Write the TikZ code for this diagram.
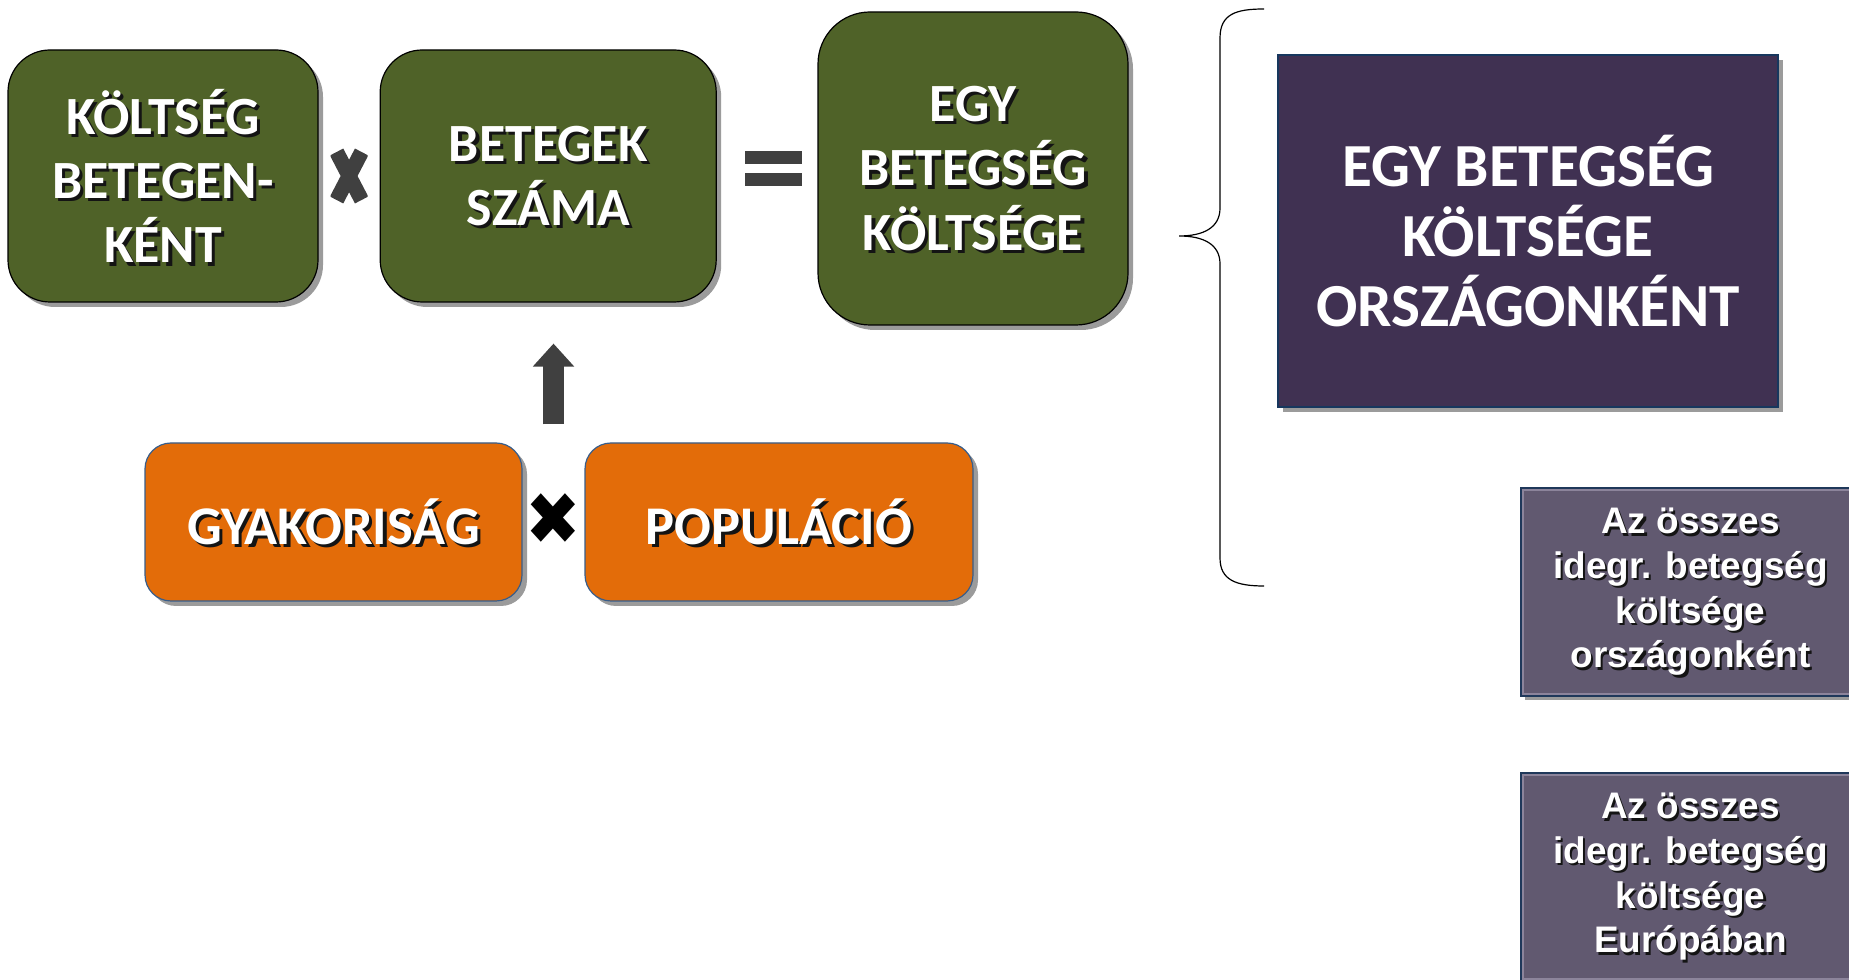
\documentclass[tikz,border=0pt]{standalone}
\usepackage{fontspec}
\setmainfont{Carlito}
\newfontfamily\arialfont{Liberation Sans}
\newfontfamily\symbfont{DejaVu Sans}
\usetikzlibrary{arrows.meta, positioning, calc, shadows}

\definecolor{boxgreen}{RGB}{79,98,40}
\definecolor{boxorange}{RGB}{227,108,9}
\definecolor{orangeline}{RGB}{56,93,138}
\definecolor{boxpurple}{RGB}{64,49,82}
\definecolor{purpleline}{RGB}{23,55,94}
\definecolor{boxgray}{RGB}{97,89,112}
\definecolor{grayline}{RGB}{31,56,90}
\definecolor{graybevel}{RGB}{140,132,155}
\definecolor{signgray}{RGB}{64,64,64}
\definecolor{shadowgray}{RGB}{155,155,155}
\definecolor{txtshadow}{RGB}{20,20,20}

\newlength\px
\setlength\px{0.01cm}

\newcommand\shtext[1]{\leavevmode\rlap{\kern0.06em\raisebox{-0.06em}[0pt][0pt]{\color{txtshadow}#1}}#1}

\begin{document}
\begin{tikzpicture}[
    x=0.01cm, y=-0.01cm,
    boxshadow/.style={drop shadow={shadow xshift=5\px, shadow yshift=-5\px, fill=shadowgray, opacity=1}},
    greenbox/.style={boxshadow, rounded corners=42\px, fill=boxgreen, draw=black, line width=1.2\px,
        text=white, align=center, inner sep=0pt, font=\fontsize{15.3}{18.3}\selectfont\bfseries},
    orangebox/.style={boxshadow, rounded corners=26\px, fill=boxorange, draw=orangeline, line width=1.2\px,
        text=white, align=center, inner sep=0pt, minimum height=158\px, font=\fontsize{15.5}{18.5}\selectfont\bfseries},
    purplebox/.style={boxshadow, fill=boxpurple, draw=purpleline, line width=1.5\px,
        text=white, align=center, inner sep=0pt, font=\fontsize{17.4}{19.8}\selectfont\bfseries},
    graybox/.style={drop shadow={shadow xshift=4\px, shadow yshift=-4\px, fill=shadowgray, opacity=1},
        fill=boxgray, draw=grayline, line width=2\px, text=white, align=center, inner sep=0pt,
        minimum width=339\px, minimum height=208\px,
        path picture={\draw[graybevel, line width=6\px] (path picture bounding box.south west) rectangle (path picture bounding box.north east);},
        font=\arialfont\fontsize{10.5}{12.7}\selectfont\bfseries},
    signnode/.style={inner sep=0pt, font=\symbfont\fontsize{18}{18}\selectfont},
    bigarrow/.style={draw=signgray, line width=0.21cm, -{Triangle[width=0.40cm, length=0.23cm]}},
    bracepen/.style={draw=black, line width=1.2\px}
]
    \useasboundingbox (0,0) rectangle (1849,980);
    \clip (0,0) rectangle (1849,980);

    % upper row
    \node[greenbox, minimum width=310\px, minimum height=252\px] (kbeteg) at (163,176)
        {\shtext{KÖLTSÉG}\\\shtext{BETEGEN-}\\\shtext{KÉNT}};
    \node[greenbox, minimum width=336\px, minimum height=252\px, right=61\px of kbeteg] (betszam)
        {\shtext{BETEGEK}\\\shtext{SZÁMA}};
    \node[greenbox, rounded corners=52\px, minimum width=310\px, minimum height=313\px] (egyktg) at (973,168.5)
        {\shtext{EGY}\\\shtext{BETEGSÉG}\\\shtext{KÖLTSÉGE}};

    \node[minimum width=37\px, minimum height=56\px, inner sep=0pt,
        path picture={
            \draw[signgray, line width=15\px] ($(path picture bounding box.center)+(-12.5,-24)$) -- ($(path picture bounding box.center)+(12.5,24)$);
            \draw[signgray, line width=15\px] ($(path picture bounding box.center)+(12.5,-24)$) -- ($(path picture bounding box.center)+(-12.5,24)$);
        }] (mul1) at ($(kbeteg.east)!0.5!(betszam.west)$) {};
    \node[minimum width=57\px, minimum height=35\px, inner sep=0pt,
        path picture={
            \fill[signgray] (path picture bounding box.north west) rectangle ++(57\px,-13\px);
            \fill[signgray] (path picture bounding box.south west) rectangle ++(57\px,13\px);
        }] (eqsign) at (773.5,168.5) {};

    % lower row
    \node[orangebox, minimum width=377\px] (gyak) at (333.5,522) {\shtext{GYAKORISÁG}};
    \node[orangebox, minimum width=388\px] (pop) at (779,522) {\shtext{POPULÁCIÓ}};
    \node[signnode, text=black] (mul2) at ($(gyak.east)!0.5!(pop.west)+(0,-3)$) {\scalebox{1.05}[1.15]{✖}};

    \coordinate (arrbase) at ($(mul2 |- gyak.north)+(0,-18)$);
    \coordinate (arrtip) at ($(mul2 |- betszam.south)+(0,41)$);
    \draw[bigarrow] (arrbase) -- (arrtip);

    % brace
    \draw[bracepen] (1264,9) .. controls (1236,9) and (1220,14) .. (1220,38) -- (1220,208)
        .. controls (1220,228) and (1203,236) .. (1179,236)
        .. controls (1203,236) and (1220,244) .. (1220,264) -- (1220,558)
        .. controls (1220,580) and (1236,586) .. (1264,586);

    % right column
    \node[purplebox, minimum width=500\px, minimum height=352\px] (orszagktg) at (1528,231)
        {EGY BETEGSÉG\\KÖLTSÉGE\\ORSZÁGONKÉNT};
    \node[graybox] (ossz1) at (1690.5,592)
        {\shtext{Az összes}\\\shtext{idegr. betegség}\\\shtext{költsége}\\\shtext{országonként}};
    \node[graybox] (ossz2) at (1690.5,877)
        {\shtext{Az összes}\\\shtext{idegr. betegség}\\\shtext{költsége}\\\shtext{Európában}};
\end{tikzpicture}
\end{document}
